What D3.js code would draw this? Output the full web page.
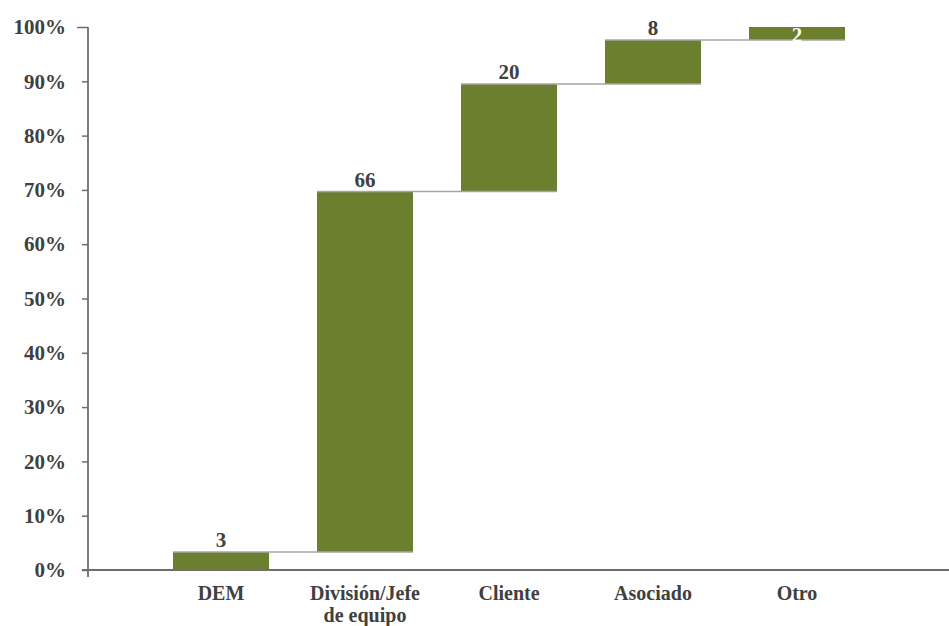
<!DOCTYPE html>
<html>
<head>
<meta charset="utf-8">
<script src="https://cdn.jsdelivr.net/npm/d3@7"></script>
<style>
  html, body { margin: 0; padding: 0; background: #fff; }
  svg { display: block; }
  text { font-family: "Liberation Serif", "DejaVu Serif", serif; font-weight: bold; fill: #404040; }
</style>
</head>
<body>
<svg id="chart" width="949" height="626"></svg>
<script>
// Waterfall of shares (%) by source
const categories = ["DEM", "División/Jefe de equipo", "Cliente", "Asociado", "Otro"];
const values = [3.3, 66.4, 19.8, 8.1, 2.4];
const yTicks = [0, 10, 20, 30, 40, 50, 60, 70, 80, 90, 100];

const svg = d3.select("#chart");
const barColor = "#6b7f2e";
const axisColor = "#6e6e6e";
const connectorColor = "#a6a6a6";

// running totals: each bar spans [start, end]
let run = 0;
const steps = values.map((v, i) => {
  const s = { cat: categories[i], value: v, start: run, end: run + v };
  run += v;
  return s;
});

const x = d3.scaleBand()
  .domain(categories)
  .range([149, 869])
  .paddingInner(1 / 3)
  .paddingOuter(1 / 6);

const y = d3.scaleLinear().domain([0, 100]).range([570, 27]);

// y axis
const yAxis = d3.axisLeft(y)
  .tickValues(yTicks)
  .tickFormat(d => d + "%")
  .tickSize(6)
  .tickPadding(16);

const gy = svg.append("g").attr("transform", "translate(88,0)").call(yAxis);
gy.select(".domain").remove();
gy.selectAll(".tick line").attr("stroke", axisColor).attr("stroke-width", 1.5)
  .attr("x2", d => d === 100 ? -11 : -6);
gy.selectAll(".tick text").attr("font-size", 21).attr("fill", "#404040")
  .attr("font-family", "Liberation Serif, serif").attr("font-weight", "bold");

svg.append("line")
  .attr("x1", 88).attr("x2", 88)
  .attr("y1", y(100)).attr("y2", y(0) + 7)
  .attr("stroke", axisColor).attr("stroke-width", 1.8);

// x baseline
svg.append("line")
  .attr("x1", 82).attr("x2", 949)
  .attr("y1", y(0)).attr("y2", y(0))
  .attr("stroke", axisColor).attr("stroke-width", 1.8);

// bars
svg.append("g").selectAll("rect")
  .data(steps)
  .join("rect")
  .attr("x", d => x(d.cat))
  .attr("width", x.bandwidth())
  .attr("y", d => y(d.end))
  .attr("height", d => y(d.start) - y(d.end))
  .attr("fill", barColor);

// connectors between consecutive bars at the running total
svg.append("g").selectAll("line")
  .data(steps.slice(0, -1))
  .join("line")
  .attr("x1", d => x(d.cat))
  .attr("x2", (d, i) => x(categories[i + 1]) + x.bandwidth())
  .attr("y1", d => y(d.end))
  .attr("y2", d => y(d.end))
  .attr("stroke", connectorColor)
  .attr("stroke-width", 1.5);

// value labels (last one sits inside its thin bar in white)
const last = steps.length - 1;
svg.append("g").selectAll("text")
  .data(steps)
  .join("text")
  .attr("x", d => x(d.cat) + x.bandwidth() / 2)
  .attr("y", (d, i) => i === last ? y(d.end) + 15 : y(d.end) - 5)
  .attr("text-anchor", "middle")
  .attr("font-size", 21)
  .style("fill", (d, i) => i === last ? "#ffffff" : "#404040")
  .text(d => Math.round(d.value));

// category labels, wrapped onto two lines where needed
const labelLines = {
  "División/Jefe de equipo": ["División/Jefe", "de equipo"]
};
const cl = svg.append("g").selectAll("text")
  .data(categories)
  .join("text")
  .attr("x", d => x(d) + x.bandwidth() / 2)
  .attr("y", 600)
  .attr("text-anchor", "middle")
  .attr("font-size", 20);
cl.each(function (d) {
  const lines = labelLines[d] || [d];
  const t = d3.select(this);
  lines.forEach((ln, i) => {
    t.append("tspan")
      .attr("x", x(d) + x.bandwidth() / 2)
      .attr("dy", i === 0 ? 0 : 22)
      .text(ln);
  });
});
</script>
</body>
</html>
